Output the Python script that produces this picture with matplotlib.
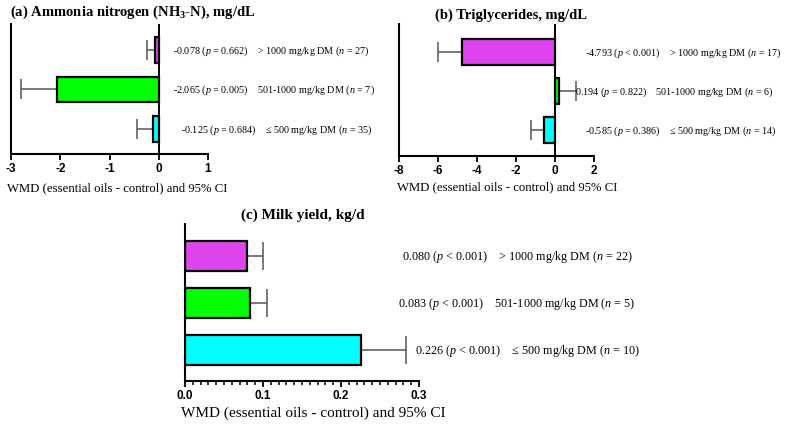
import matplotlib
matplotlib.use("Agg")
import matplotlib.pyplot as plt
from matplotlib.ticker import MultipleLocator

plt.rcParams['axes.unicode_minus'] = False
plt.rcParams['mathtext.fontset'] = 'custom'
plt.rcParams['mathtext.rm'] = 'Liberation Serif'
plt.rcParams['mathtext.it'] = 'Liberation Serif:italic'
plt.rcParams['mathtext.bf'] = 'Liberation Serif:bold'

SERIF = ['Liberation Serif', 'DejaVu Serif']
SANS = ['Liberation Sans', 'DejaVu Sans']

# ---- data (top-to-bottom order as displayed) ----
groups = ['> 1000 mg/kg DM', '501-1000 mg/kg DM', '\u2264 500 mg/kg DM']
colors = ['#DD44EE', '#00FF00', '#00FFFF']

# (a) Ammonia nitrogen
a_wmd = [-0.078, -2.065, -0.125]
a_ci = [-0.24, -2.79, -0.44]
a_p = ['= 0.662', '= 0.005', '= 0.684']
a_n = [27, 7, 35]

# (b) Triglycerides
b_wmd = [-4.793, 0.194, -0.585]
b_ci = [-6.02, 1.06, -1.25]
b_p = ['< 0.001', '= 0.822', '= 0.386']
b_n = [17, 6, 14]

# (c) Milk yield
c_wmd = [0.080, 0.083, 0.226]
c_ci = [0.100, 0.105, 0.283]
c_p = ['< 0.001', '< 0.001', '< 0.001']
c_n = [22, 5, 10]

fig = plt.figure(figsize=(7.88, 4.35), dpi=100)


def panel(rect, wmd, ci, pvals, ns, xlim, major, minor, ylim, title, title_xy,
          xlabel_xy, text_x, fs_text, fs_label, fs_title, capsize, zero_line,
          fs_tick):
    ax = fig.add_axes(rect)
    pos = [2, 1, 0]
    lo = [max(w - c, 0) for w, c in zip(wmd, ci)]
    hi = [max(c - w, 0) for w, c in zip(wmd, ci)]
    ax.errorbar(wmd, pos, xerr=[lo, hi], fmt='none', ecolor='#555555',
                elinewidth=1.1, capsize=capsize, capthick=1.1, zorder=1)
    ax.barh(pos, wmd, height=0.65, color=colors, edgecolor='black',
            linewidth=1.6, zorder=2)
    if zero_line:
        ax.axvline(0, color='black', lw=1.4, zorder=3)
    ax.set_xlim(*xlim)
    ax.set_ylim(*ylim)
    ax.xaxis.set_major_locator(MultipleLocator(major))
    if minor:
        ax.xaxis.set_minor_locator(MultipleLocator(minor))
    ax.set_yticks([])
    for s in ['top', 'right']:
        ax.spines[s].set_visible(False)
    for s in ['left', 'bottom']:
        ax.spines[s].set_linewidth(1.5)
    ax.tick_params(axis='x', which='major', direction='out', length=4.5,
                   width=1.3, pad=1.5)
    ax.tick_params(axis='x', which='minor', direction='out', length=3,
                   width=1.1)
    for lab in ax.get_xticklabels():
        lab.set_fontfamily(SANS)
        lab.set_fontweight('bold')
        lab.set_fontsize(fs_tick)
    for i in range(3):
        txt = (f"{wmd[i]:.3f} ($\\mathit{{p}}$ {pvals[i]})    {groups[i]} "
               f"($\\mathit{{n}}$ = {ns[i]})")
        ax.annotate(txt, xy=(text_x[i], pos[i]),
                    xycoords=('axes fraction', 'data'),
                    ha='left', va='center', fontsize=fs_text,
                    family=SERIF, annotation_clip=False)
    ax.text(title_xy[0], title_xy[1], title, transform=ax.transAxes,
            ha='left', va='center', fontsize=fs_title, fontweight='bold',
            family=SERIF)
    ax.text(xlabel_xy[0], xlabel_xy[1],
            'WMD (essential oils - control) and 95% CI',
            transform=ax.transAxes, ha='left', va='center',
            fontsize=fs_label, family=SERIF)
    return ax


panel([11 / 788, 280 / 435, 197 / 788, 130 / 435], a_wmd, a_ci, a_p, a_n,
      (-3, 1), 1, None, (-0.64, 2.66),
      r'(a) Ammonia nitrogen (NH$_\mathbf{3}$-N), mg/dL', (-0.005, 1.10),
      (-0.02, -0.254), [0.822, 0.822, 0.863], 7.3, 9.2, 10.5, 7, True, 8.5)

panel([399 / 788, 278 / 435, 195 / 788, 132 / 435], b_wmd, b_ci, b_p, b_n,
      (-8, 2), 2, None, (-0.67, 2.72),
      '(b) Triglycerides, mg/dL', (0.185, 1.076),
      (-0.01, -0.227), [0.954, 0.903, 0.954], 7.3, 9.2, 10.5, 7, True, 8.5)

panel([185 / 788, 53 / 435, 234 / 788, 157 / 435], c_wmd, c_ci, c_p, c_n,
      (0, 0.3), 0.1, 0.01, (-0.66, 2.68),
      '(c) Milk yield, kg/d', (0.239, 1.064),
      (-0.017, -0.197), [0.927, 0.910, 0.983], 8.7, 11, 11, 10, False, 8.5)

fig.savefig('out.png', dpi=100)
